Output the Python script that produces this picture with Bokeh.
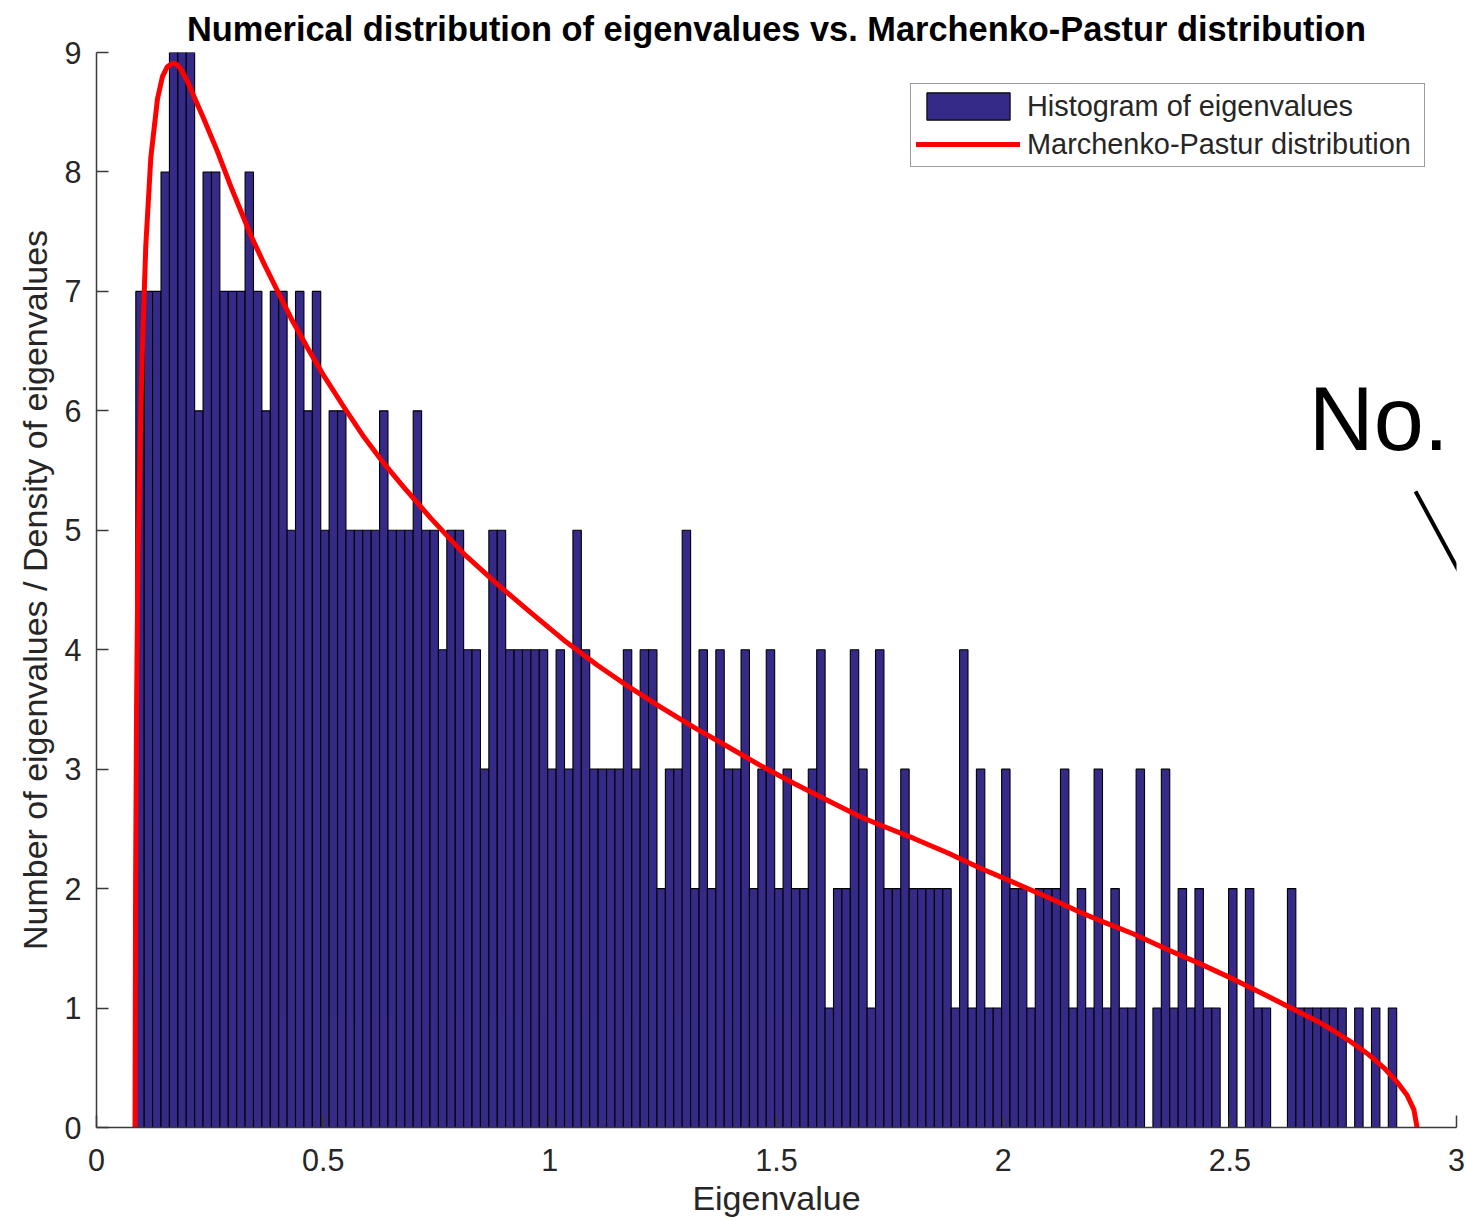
import numpy as np
from bokeh.plotting import figure
from bokeh.models import Range1d, FixedTicker, Legend, LegendItem, Label, ColumnDataSource
from bokeh.embed import file_html
from bokeh.resources import INLINE

# ---------------- data ----------------
title_text = "Numerical distribution of eigenvalues vs. Marchenko-Pastur distribution"
x_label = "Eigenvalue"
y_label = "Number of eigenvalues / Density of eigenvalues"
hist_label = "Histogram of eigenvalues"
curve_label = "Marchenko-Pastur distribution"

# histogram: 150 equal bins between the smallest and largest eigenvalue
bin_lo = 0.0867
bin_hi = 2.8681
counts = [
    7, 7, 7, 8, 9, 9, 9, 6, 8, 8,
    7, 7, 7, 8, 7, 6, 7, 7, 5, 7,
    6, 7, 5, 6, 6, 5, 5, 5, 5, 6,
    5, 5, 5, 6, 5, 5, 4, 5, 5, 4,
    4, 3, 5, 5, 4, 4, 4, 4, 4, 3,
    4, 3, 5, 4, 3, 3, 3, 3, 4, 3,
    4, 4, 2, 3, 3, 5, 2, 4, 2, 4,
    3, 3, 4, 2, 3, 4, 2, 3, 2, 2,
    3, 4, 1, 2, 2, 4, 3, 1, 4, 2,
    2, 3, 2, 2, 2, 2, 2, 1, 4, 1,
    3, 1, 1, 3, 2, 2, 1, 2, 2, 2,
    3, 1, 2, 1, 3, 1, 2, 1, 1, 3,
    0, 1, 3, 1, 2, 1, 2, 1, 1, 0,
    2, 0, 2, 1, 1, 0, 0, 2, 1, 1,
    1, 1, 1, 1, 0, 1, 0, 1, 0, 1,
]

# Marchenko-Pastur curve, points
mp_x = [0.0850, 0.0862, 0.0885, 0.0915, 0.0977, 0.1015, 0.1087, 0.1198, 0.1345,
        0.1456, 0.1560, 0.1676, 0.1770, 0.1860, 0.2007, 0.2153, 0.2373, 0.2669,
        0.2962, 0.3403, 0.3697, 0.4285, 0.4650, 0.5020, 0.5460, 0.5900, 0.6340,
        0.6780, 0.7377, 0.8110, 0.8840, 0.9580, 1.0310, 1.1050, 1.1780, 1.2445,
        1.3180, 1.3920, 1.4650, 1.5390, 1.6120, 1.6860, 1.7300, 1.8030, 1.8770,
        1.9500, 2.0240, 2.0970, 2.1710, 2.2150, 2.2880, 2.3620, 2.4350, 2.5090,
        2.5830, 2.6560, 2.6930, 2.7290, 2.7660, 2.8030, 2.8400, 2.8690, 2.8910,
        2.9060, 2.9130]
mp_y = [0.00, 2.00, 3.60, 4.75, 6.00, 6.55, 7.38, 8.12, 8.61,
        8.80, 8.88, 8.91, 8.90, 8.86, 8.76, 8.63, 8.44, 8.17,
        7.88, 7.47, 7.23, 6.78, 6.53, 6.29, 6.03, 5.78, 5.56,
        5.36, 5.10, 4.80, 4.55, 4.31, 4.08, 3.87, 3.68, 3.52,
        3.35, 3.19, 3.03, 2.88, 2.74, 2.60, 2.53, 2.42, 2.30,
        2.17, 2.05, 1.93, 1.80, 1.73, 1.62, 1.49, 1.37, 1.24,
        1.10, 0.96, 0.89, 0.81, 0.72, 0.62, 0.50, 0.38, 0.27,
        0.15, 0.00]

x_ticks = [0, 0.5, 1, 1.5, 2, 2.5, 3]
x_tick_labels = ["0", "0.5", "1", "1.5", "2", "2.5", "3"]
y_ticks = [0, 1, 2, 3, 4, 5, 6, 7, 8, 9]
y_tick_labels = ["0", "1", "2", "3", "4", "5", "6", "7", "8", "9"]

# overlay note seen on the right of the picture
note_text = "No."
note_pos = (2.674, 5.93)
note_stroke = ([2.9096], [5.326], [3.0198], [4.556])

# ---------------- figure ----------------
FONT = "Liberation Sans"
AX = "#262626"

p = figure(frame_width=1360, frame_height=1075,
           x_range=Range1d(0, 3), y_range=Range1d(0, 9),
           output_backend="svg", toolbar_location=None,
           min_border_left=96, min_border_right=9,
           min_border_top=52, min_border_bottom=92,
           title=title_text)
p.outline_line_color = None
p.grid.visible = False
p.background_fill_color = "white"

p.title.align = "center"
p.title.text_font = FONT
p.title.text_font_size = "34.4px"
p.title.text_font_style = "bold"
p.title.text_color = "#000000"
p.title.standoff = 9

for ax in (p.xaxis[0], p.yaxis[0]):
    ax.axis_line_color = "#3a3a3a"
    ax.axis_line_width = 1.5
    ax.major_tick_line_color = "#3a3a3a"
    ax.major_tick_line_width = 1.5
    ax.major_tick_in = 12
    ax.major_tick_out = 0
    ax.minor_tick_line_color = None
    ax.major_label_text_font = FONT
    ax.major_label_text_font_size = "30.5px"
    ax.major_label_text_color = AX
    ax.axis_label_text_font = FONT
    ax.axis_label_text_font_size = "34px"
    ax.axis_label_text_font_style = "normal"
    ax.axis_label_text_color = AX

p.xaxis.ticker = FixedTicker(ticks=x_ticks)
p.xaxis.major_label_overrides = {float(t): s for t, s in zip(x_ticks, x_tick_labels)}
p.xaxis.axis_label = x_label
p.xaxis.major_label_standoff = 21
p.xaxis.axis_label_standoff = 5

p.yaxis.ticker = FixedTicker(ticks=y_ticks)
p.yaxis.major_label_overrides = {float(t): s for t, s in zip(y_ticks, y_tick_labels)}
p.yaxis.axis_label = y_label
p.yaxis.major_label_standoff = 15
p.yaxis.axis_label_standoff = 8

edges = np.linspace(bin_lo, bin_hi, len(counts) + 1)
src = ColumnDataSource(dict(left=edges[:-1], right=edges[1:], top=counts))
bars = p.quad(left="left", right="right", top="top", bottom=0, source=src,
              fill_color="#352A87", line_color="#000000", line_width=1.1)

curve = p.line(mp_x, mp_y, line_color="#FF0000", line_width=5,
               line_join="round", line_cap="round")

legend = Legend(items=[LegendItem(label=hist_label, renderers=[bars]),
                       LegendItem(label=curve_label, renderers=[curve])],
                location="top_right", margin=31, padding=5, spacing=4,
                glyph_width=104, glyph_height=34, label_height=34,
                label_width=392, label_standoff=7,
                label_text_font=FONT, label_text_font_size="28.9px",
                label_text_color=AX,
                border_line_color="#3a3a3a", border_line_width=1.5,
                background_fill_color="white", background_fill_alpha=1.0)
p.add_layout(legend)

p.add_layout(Label(x=note_pos[0], y=note_pos[1], text=note_text,
                   text_font=FONT, text_font_size="90px",
                   text_color="#000000", text_baseline="alphabetic"))
p.segment(x0=note_stroke[0], y0=note_stroke[1], x1=note_stroke[2], y1=note_stroke[3],
          line_color="#000000", line_width=4)

open("out.html", "w").write(file_html(p, INLINE))
